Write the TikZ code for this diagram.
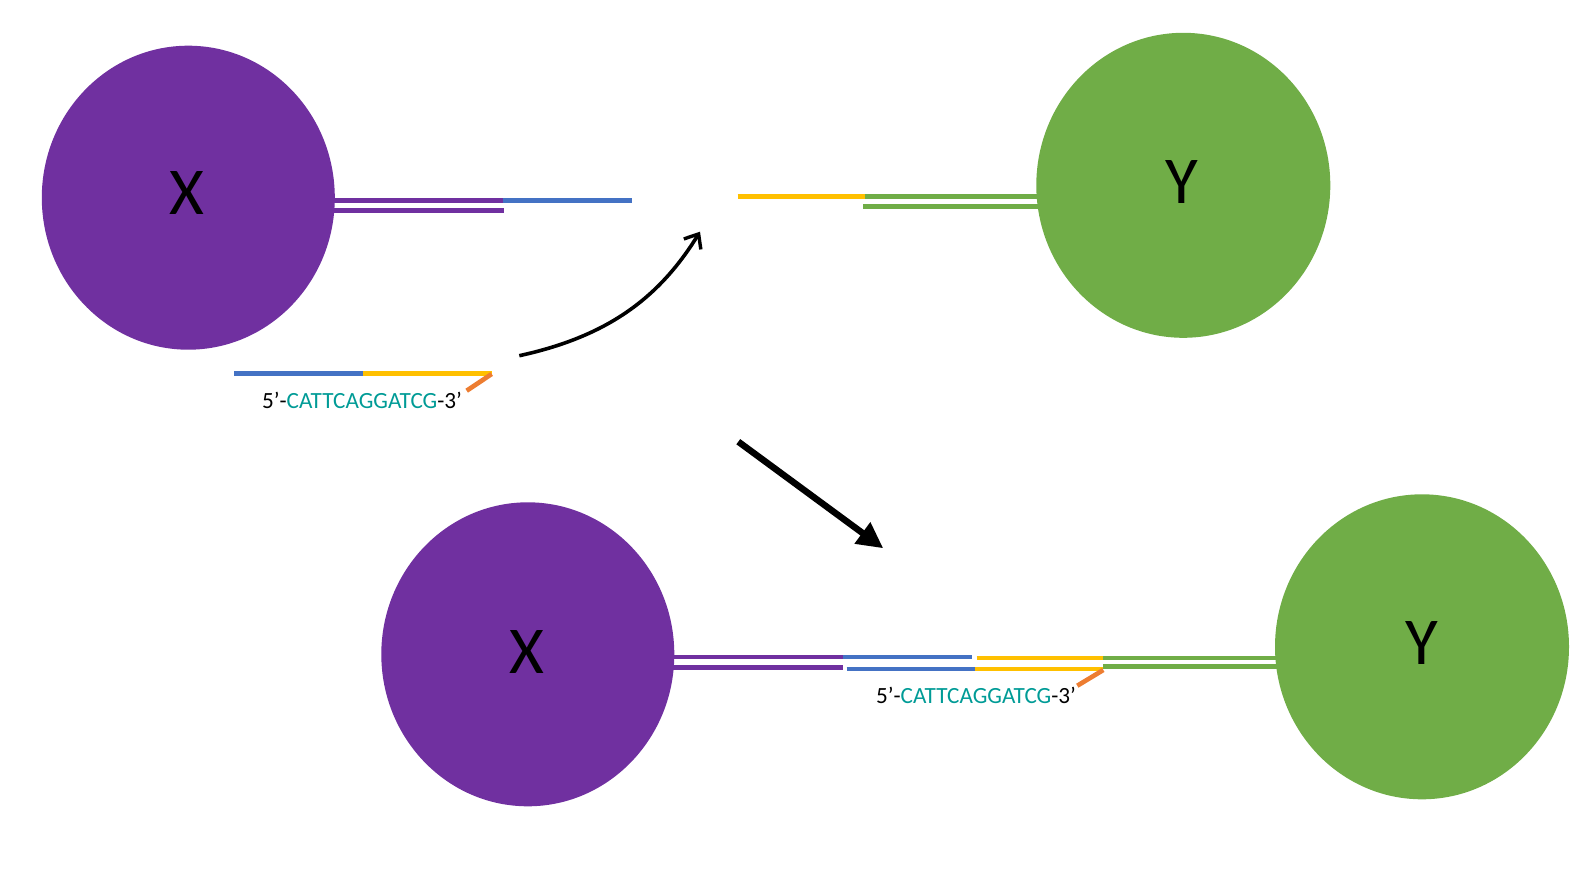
\documentclass[tikz,border=0pt]{standalone}
\usepackage{fontspec}
\setmainfont{Carlito}
\usetikzlibrary{shapes.geometric,arrows.meta}
\definecolor{cpurple}{HTML}{7030A0}
\definecolor{cgreen}{HTML}{70AD47}
\definecolor{cblue}{HTML}{4472C4}
\definecolor{cyellow}{HTML}{FFC000}
\definecolor{corange}{HTML}{ED7D31}
\definecolor{cteal}{RGB}{0,155,150}
\tikzset{
  molX/.style={ellipse,fill=cpurple,draw=none,inner sep=0pt,minimum width=293pt,minimum height=304pt},
  molY/.style={ellipse,fill=cgreen,draw=none,inner sep=0pt,minimum width=294pt,minimum height=305pt},
  lett/.style={font=\fontsize{67}{67}\selectfont,inner sep=0pt,text=black},
  seqtext/.style={font=\fontsize{23.2}{23.2}\selectfont,inner sep=0pt,anchor=base},
  strand/.style={line width=4.6pt,line cap=butt},
  curvedarrow/.style={line width=3.6pt,-{Straight Barb[length=12pt,width=20pt,line width=3.4pt]}},
  bigarrow/.style={line width=6.5pt,-{Triangle[length=26pt,width=25pt]}}
}
\begin{document}
\begin{tikzpicture}[x=1pt,y=-1pt]
\useasboundingbox (0,0) rectangle (1590,894);
% ---- top left strands (under the circle)
\draw[strand,cpurple] (300,200.5) coordinate (pa) -- (502.7,200.5) coordinate (pb);
\draw[strand,cblue] (pb) -- (631.7,200.5) coordinate (pc);
\draw[strand,cpurple] (300,210.5) -- (503.7,210.5);
% ---- top right strands
\draw[strand,cyellow] (737.7,196.3) coordinate (ya) -- (865,196.3) coordinate (yb);
\draw[strand,cgreen] (yb) -- (1100,196.3);
\draw[strand,cgreen] (863.3,206.3) -- (1100,206.3);
% ---- free strand
\draw[strand,cblue] (234,373.3) coordinate (fa) -- (363.3,373.3) coordinate (fb);
\draw[strand,cyellow] (fb) -- (491.7,373.3) coordinate (fc);
\draw[strand,corange] (491.7,374) -- (466.7,390.7);
% ---- bottom strands
\draw[strand,cpurple] (600,657) -- (842.7,657) coordinate (ba);
\draw[strand,cblue] (ba) -- (971.7,657);
\draw[strand,cyellow] (976.7,658) -- (1103.3,658) coordinate (bb);
\draw[strand,cgreen] (bb) -- (1350,658);
\draw[strand,cpurple] (600,667.2) -- (843.3,667.2);
\draw[strand,cblue] (846.7,669) -- (975,669) coordinate (bc);
\draw[strand,cyellow] (bc) -- (1103.3,669) coordinate (bd);
\draw[strand,cgreen] (1103.3,666.6) -- (1350,666.6);
\draw[strand,corange] (1103.3,670) -- (1077.3,685.7);
% ---- molecules
\node[molX] (X1) at (188.3,197.7) {};
\node[molY] (Y1) at (1183.3,185.3) {};
\node[molX] (X2) at (527.8,654.3) {};
\node[molY] (Y2) at (1422,646.8) {};
\node[lett] (X1l) at (187.3,193.3) {X};
\node[lett] (Y1l) at (1182.3,181.7) {Y};
\node[lett] (X2l) at (527.3,651.7) {X};
\node[lett] (Y2l) at (1421.7,643.3) {Y};
% ---- sequence labels
\node[seqtext] (s1) at (362,408) {5’-\textcolor{cteal}{CATTCAGGATCG}-3’};
\node[seqtext] (s2) at (976,703.3) {5’-\textcolor{cteal}{CATTCAGGATCG}-3’};
% ---- arrows
\coordinate (c1s) at (519.3,355.7);
\coordinate (c1e) at (700,231.7);
\draw[curvedarrow] (c1s) .. controls (605,337) and (658,300) .. (c1e);
\coordinate (c2s) at (738.3,441.7);
\coordinate (c2e) at (883.3,548.3);
\draw[bigarrow] (c2s) -- (c2e);
\end{tikzpicture}
\end{document}
